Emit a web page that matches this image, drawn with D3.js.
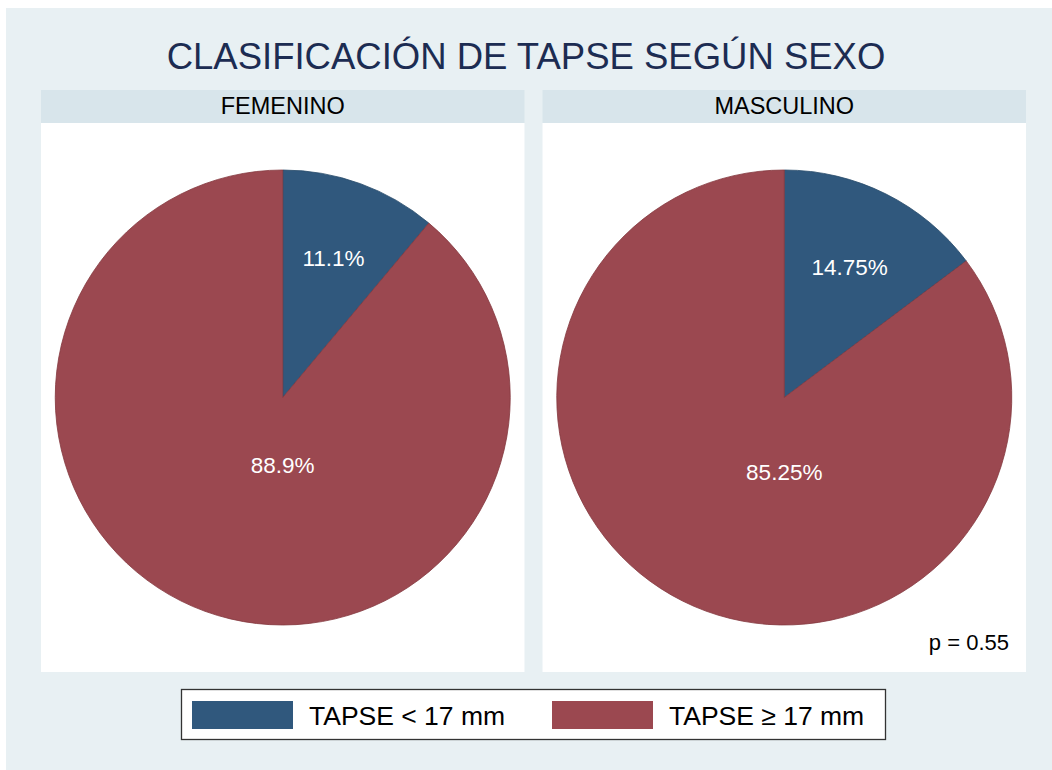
<!DOCTYPE html>
<html>
<head>
<meta charset="utf-8">
<script src="https://cdn.jsdelivr.net/npm/d3@7"></script>
<style>
  body { margin: 0; background: #fff; }
  svg { display: block; font-family: "Liberation Sans", Arial, sans-serif; }
</style>
</head>
<body>
<div class="chart"></div>
<script>
// datos
const panels = ["FEMENINO", "MASCULINO"];
const categories = ["TAPSE < 17 mm", "TAPSE \u2265 17 mm"];
const femenino = [11.1, 88.9];
const masculino = [14.75, 85.25];
const pLabels = ["11.1%", "88.9%"];
const mLabels = ["14.75%", "85.25%"];
const pValue = "p = 0.55";

const colors = ["#30587d", "#9b4850"];
const strokes = ["#274a6a", "#84393f"];

const width = 1052;
const height = 770;
const svg = d3.select('.chart')
    .append('svg')
    .attr('width', width)
    .attr('height', height);

// fondo
svg.append('rect')
    .attr('x', 6).attr('y', 8)
    .attr('width', width - 6).attr('height', height - 8)
    .attr('fill', '#e8f0f3');

svg.append('text')
    .text('CLASIFICACIÓN DE TAPSE SEGÚN SEXO')
    .attr('x', 526).attr('y', 69)
    .attr('text-anchor', 'middle')
    .attr('font-size', 36.5)
    .attr('fill', '#1c2c52');

const panelX = d3.scaleBand().domain(panels).range([41, 1026]).paddingInner(0.036);
const panelData = [
    {name: panels[0], values: femenino, labels: pLabels},
    {name: panels[1], values: masculino, labels: mLabels}
];

const pie = d3.pie().sort(null).value(d => d);
const R = 227.5;
const arc = d3.arc().innerRadius(0).outerRadius(R);

panelData.forEach(function (p, i){
    const x0 = panelX(p.name);
    const w = panelX.bandwidth();
    const g = svg.append('g');

    g.append('rect')
        .attr('x', x0).attr('y', 90)
        .attr('width', w).attr('height', 33)
        .attr('fill', '#d8e5eb');
    g.append('rect')
        .attr('x', x0).attr('y', 123)
        .attr('width', w).attr('height', 549)
        .attr('fill', '#ffffff');
    g.append('text')
        .text(p.name)
        .attr('x', x0 + w / 2).attr('y', 114)
        .attr('text-anchor', 'middle')
        .attr('font-size', 23.5)
        .attr('fill', '#000');

    const cx = x0 + w / 2;
    const cy = 397.5;
    const pg = g.append('g').attr('transform', 'translate(' + cx + ',' + cy + ')');
    const arcs = pie(p.values);

    pg.selectAll('path')
        .data(arcs)
        .enter()
        .append('path')
        .attr('d', arc)
        .attr('fill', (d, j) => colors[j])
        .attr('stroke', (d, j) => strokes[j])
        .attr('stroke-width', 0.8);

    // etiquetas: centroide del sector; los sectores grandes se bajan hacia abajo
    pg.selectAll('text')
        .data(arcs)
        .enter()
        .append('text')
        .text((d, j) => p.labels[j])
        .attr('transform', function (d){
            const half = (d.endAngle - d.startAngle) / 2;
            let mid = d.startAngle + half;
            let dist = 2 * R * Math.sin(half) / (3 * half);
            if (half > Math.PI / 2) {
                mid = Math.PI;
                dist += 49;
            }
            return 'translate(' + (dist * Math.sin(mid)) + ',' + (-dist * Math.cos(mid)) + ')';
        })
        .attr('text-anchor', 'middle')
        .attr('dy', '0.35em')
        .attr('font-size', 22.5)
        .attr('fill', '#fff');

    if (i == 1) {
        g.append('text')
            .text(pValue)
            .attr('x', x0 + w - 17).attr('y', 650)
            .attr('text-anchor', 'end')
            .attr('font-size', 22)
            .attr('fill', '#000');
    }
});

// leyenda
const legend = svg.append('g');
legend.append('rect')
    .attr('x', 181.5).attr('y', 689.5)
    .attr('width', 704).attr('height', 50)
    .attr('fill', '#fff')
    .attr('stroke', '#333')
    .attr('stroke-width', 1.3);

const legX = d3.scaleBand().domain(categories).range([192, 912]);
legend.selectAll('rect.sw')
    .data(categories)
    .enter()
    .append('rect')
    .attr('class', 'sw')
    .attr('x', d => legX(d)).attr('y', 701)
    .attr('width', 101).attr('height', 28)
    .attr('fill', (d, j) => colors[j]);
legend.selectAll('text')
    .data(categories)
    .enter()
    .append('text')
    .text(d => d)
    .attr('x', d => legX(d) + 117).attr('y', 725)
    .attr('font-size', 26.5)
    .attr('fill', '#000');
</script>
</body>
</html>
